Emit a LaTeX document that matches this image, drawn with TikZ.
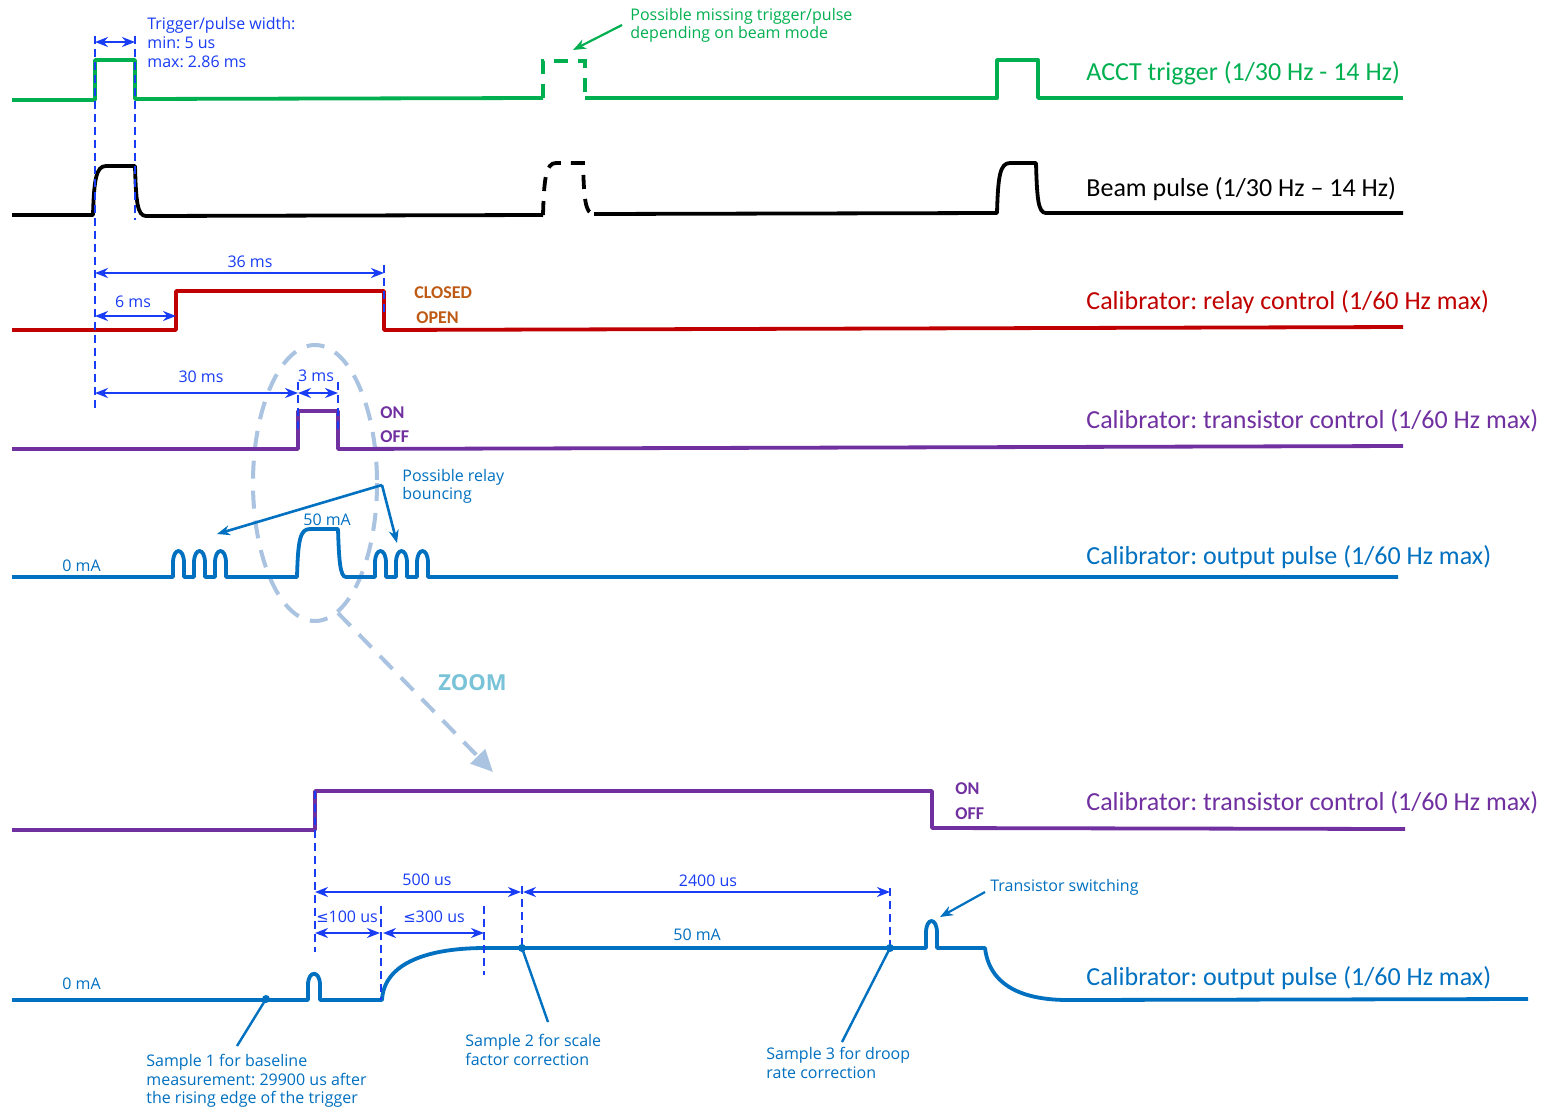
\documentclass[tikz,border=0pt]{standalone}
\usepackage{fontspec}
\setmainfont{Carlito}
\newfontfamily\annfont{Open Sans}
\newfontfamily\symfont{DejaVu Sans}
\usetikzlibrary{arrows.meta}
\definecolor{cgreen}{RGB}{0,176,80}
\definecolor{cred}{RGB}{192,0,0}
\definecolor{cpurple}{RGB}{112,48,160}
\definecolor{cblue}{RGB}{0,112,192}
\definecolor{dimblue}{RGB}{25,60,245}
\definecolor{cbrown}{RGB}{191,90,20}
\definecolor{zoomline}{RGB}{170,195,225}
\definecolor{zoomtext}{RGB}{120,195,215}
\frenchspacing
\begin{document}
\begin{tikzpicture}[x=0.5pt,y=-0.5pt,
  sig/.style={line width=1.9pt, line join=round},
  dashsig/.style={line width=1.9pt, dash pattern=on 7pt off 5pt},
  dimline/.style={dimblue, line width=1pt, {Stealth[length=6.5pt,width=5pt]}-{Stealth[length=6.5pt,width=5pt]}},
  guide/.style={dimblue, line width=1.2pt, dash pattern=on 4pt off 2.5pt},
  siglabel/.style={font=\fontsize{13}{15}\selectfont, anchor=west, inner sep=0pt},
  ann/.style={font=\annfont\fontsize{8}{9.3}\selectfont, inner sep=0pt, align=left},
  dimtext/.style={font=\annfont\fontsize{8}{9.3}\selectfont, inner sep=0pt, anchor=base, text=dimblue},
  state/.style={font=\bfseries\fontsize{9}{10}\selectfont, anchor=base west, inner sep=0pt},
  callout/.style={line width=1.3pt, -{Stealth[length=6.5pt,width=5pt]}},
  leader/.style={cblue, line width=1.2pt},
]
\fill[white] (0,0) rectangle (1551,1108);
\useasboundingbox (0,0) rectangle (1551,1108);

% ---------- zoom ellipse and arrow ----------
\draw[zoomline, line width=2pt, dash pattern=on 9pt off 6pt] (315,483) ellipse [x radius=62, y radius=138];
\coordinate (zs) at (338,613);
\coordinate (ze) at (493,772);
\draw[zoomline, line width=2pt, dash pattern=on 9pt off 6pt, -{Triangle[length=11pt,width=10pt]}] (zs) -- (ze);
\node[font=\annfont\bfseries\fontsize{11}{13}\selectfont, text=zoomtext, anchor=base west, inner sep=0pt] (zoomlbl) at (438,690) {ZOOM};

% ---------- ACCT trigger ----------
\draw[sig, cgreen] (12,100) -- (95,100) -- (95,60) -- (135,60) -- (135,99) -- (543,98);
\draw[dashsig, cgreen] (543,98) -- (543,61) -- (585,61) -- (585,98);
\draw[sig, cgreen] (585,98) -- (997,98) -- (997,60) -- (1038,60) -- (1038,98) -- (1403,98);
\node[siglabel, text=cgreen] (lacct) at (1086,73) {ACCT trigger (1/30 Hz - 14 Hz)};

% ---------- Beam pulse ----------
\draw[sig, black] (12,215) -- (93,215) .. controls (94,180) and (96,166) .. (106,166) -- (135,166)
  .. controls (136,200) and (137,216) .. (146,216) -- (543,215);
\draw[dashsig, black] (543,215) .. controls (544,178) and (546,163) .. (556,163) -- (583,163)
  .. controls (584,198) and (585,214) .. (594,214);
\draw[sig, black] (594,214) -- (997,213) .. controls (998,176) and (1000,163) .. (1010,163) -- (1036,163)
  .. controls (1037,198) and (1038,213) .. (1046,213) -- (1403,213);
\node[siglabel, text=black] (lbeam) at (1086,189) {Beam pulse (1/30 Hz – 14 Hz)};

% ---------- Relay control ----------
\draw[sig, cred] (12,330) -- (176,330) -- (176,291) -- (384,291) -- (384,330) -- (1403,327);
\node[siglabel, text=cred] (lrelay) at (1086,302) {Calibrator: relay control (1/60 Hz max)};
\node[state, text=cbrown] (closed) at (414,298) {CLOSED};
\node[state, text=cbrown] (open) at (416,323) {OPEN};

% ---------- Transistor control ----------
\draw[sig, cpurple] (12,449) -- (298,449) -- (298,411) -- (338,411) -- (338,449) -- (1403,446);
\node[siglabel, text=cpurple] (ltrans) at (1086,421) {Calibrator: transistor control (1/60 Hz max)};
\node[state, text=cpurple] (on1) at (380,418) {ON};
\node[state, text=cpurple] (off1) at (380,442) {OFF};

% ---------- Output pulse ----------
\draw[sig, cblue] (12,577) -- (173,577)
  -- (173,563) .. controls (173,547) and (184,547) .. (184,563) -- (184,577) -- (194,577)
  -- (194,563) .. controls (194,547) and (205,547) .. (205,563) -- (205,577) -- (215,577)
  -- (215,563) .. controls (215,547) and (226,547) .. (226,563) -- (226,577) -- (297,577)
  .. controls (298,540) and (300,529) .. (310,529) -- (338,529)
  .. controls (339,560) and (340,577) .. (346,577) -- (375,577)
  -- (375,563) .. controls (375,547) and (386,547) .. (386,563) -- (386,577) -- (396,577)
  -- (396,563) .. controls (396,547) and (407,547) .. (407,563) -- (407,577) -- (417,577)
  -- (417,563) .. controls (417,547) and (428,547) .. (428,563) -- (428,577) -- (1398,577);
\node[siglabel, text=cblue] (lout) at (1086,557) {Calibrator: output pulse (1/60 Hz max)};
\node[ann, text=cblue, anchor=base west] (zero1) at (62,571) {0 mA};
\node[ann, text=cblue, anchor=base west] (fifty1) at (303,525) {50 mA};
\node[ann, text=cblue, anchor=north west, font=\annfont\fontsize{8}{9}\selectfont] (bounce) at (402,469) {Possible relay\\bouncing};
\coordinate (bsrc) at (382,485);
\coordinate (b1) at (217,534);
\coordinate (b2) at (397,543);
\draw[callout, cblue] (bsrc) -- (b1);
\draw[callout, cblue] (bsrc) -- (b2);

% ---------- Missing trigger annotation ----------
\node[ann, text=cgreen, anchor=north west, font=\annfont\fontsize{8}{9}\selectfont] (missing) at (630,8) {Possible missing trigger/pulse\\depending on beam mode};
\coordinate (msrc) at (622,25);
\coordinate (mdst) at (573,50);
\draw[callout, cgreen, line width=1.1pt] (msrc) -- (mdst);

% ---------- Top dimensions ----------
\draw[guide] (95,36) -- (95,412);
\draw[guide] (135,36) -- (135,220);
\draw[guide] (384,265) -- (384,312);
\draw[guide] (298,382) -- (298,432);
\draw[guide] (338,382) -- (338,432);
\coordinate (w0) at (95,42);   \coordinate (w1) at (135,42);
\coordinate (a0) at (95,273);  \coordinate (a1) at (384,273);
\coordinate (c0) at (95,316);  \coordinate (c1) at (176,316);
\coordinate (d0) at (95,393);  \coordinate (d1) at (298,393);
\coordinate (e1) at (338,393);
\draw[dimline] (w0) -- (w1);
\draw[dimline] (a0) -- (a1);
\draw[dimline] (c0) -- (c1);
\draw[dimline] (d0) -- (d1);
\draw[dimline] (d1) -- (e1);
\node[ann, text=dimblue, anchor=north west, font=\annfont\fontsize{8}{9.5}\selectfont] (trigw) at (147,17) {Trigger/pulse width:\\min: 5 us\\max: 2.86 ms};
\node[dimtext] (t36) at (250,267) {36 ms};
\node[dimtext] (t6) at (133,307) {6 ms};
\node[dimtext] (t30) at (201,382) {30 ms};
\node[dimtext] (t3) at (316,381) {3 ms};

% ---------- Bottom transistor control ----------
\draw[sig, cpurple] (12,830) -- (315,830) -- (315,791) -- (932,791) -- (932,828) -- (1405,829);
\node[siglabel, text=cpurple] (ltrans2) at (1086,803) {Calibrator: transistor control (1/60 Hz max)};
\node[state, text=cpurple] (on2) at (955,794) {ON};
\node[state, text=cpurple] (off2) at (955,819) {OFF};

% ---------- Bottom output pulse ----------
\draw[sig, cblue] (12,1000) -- (308,1000) -- (308,985) .. controls (308,970) and (320,970) .. (320,985) -- (320,1000)
  -- (382,1000) .. controls (384,962) and (430,948) .. (485,948) -- (926,948)
  -- (926,933) .. controls (926,917) and (937,917) .. (937,933) -- (937,948) -- (985,948)
  .. controls (990,990) and (1030,1000) .. (1068,1000) -- (1528,999);
\node[siglabel, text=cblue] (lout2) at (1086,978) {Calibrator: output pulse (1/60 Hz max)};
\node[ann, text=cblue, anchor=base west] (zero2) at (62,989) {0 mA};
\node[ann, text=cblue, anchor=base west] (fifty2) at (673,940) {50 mA};

\coordinate (s1) at (266,999);
\coordinate (s2) at (522,948);
\coordinate (s3) at (890,948);
\coordinate (l1) at (237,1046);
\coordinate (l2) at (548,1022);
\coordinate (l3) at (842,1042);

% bottom guides and dimensions
\draw[guide] (315,791) -- (315,952);
\draw[guide] (381,906) -- (381,1000);
\draw[guide] (484,906) -- (484,975);
\draw[guide] (522,886) -- (522,948);
\draw[guide] (890,888) -- (890,948);
\coordinate (f0) at (315,892); \coordinate (f1) at (521,892);
\coordinate (g0) at (523,892); \coordinate (g1) at (890,892);
\coordinate (h0) at (315,933); \coordinate (h1) at (380,933);
\coordinate (k0) at (383,933); \coordinate (k1) at (484,933);
\draw[dimline] (f0) -- (f1);
\draw[dimline] (g0) -- (g1);
\draw[dimline] (h0) -- (h1);
\draw[dimline] (k0) -- (k1);
\node[dimtext] (t500) at (427,885) {500 us};
\node[dimtext] (t2400) at (708,886) {2400 us};
\node[dimtext] (t100) at (347,922) {{\symfont\fontsize{7.4}{9}\selectfont ≤}100 us};
\node[dimtext] (t300) at (434,922) {{\symfont\fontsize{7.4}{9}\selectfont ≤}300 us};

% sample leaders
\draw[leader] (s1) -- (l1);
\draw[leader] (s2) -- (l2);
\draw[leader] (s3) -- (l3);
\fill[cblue] (s1) circle (2pt);
\fill[cblue] (s2) circle (2pt);
\fill[cblue] (s3) circle (2pt);
\node[ann, text=cblue, anchor=north west, font=\annfont\fontsize{8}{9.3}\selectfont] (samp1) at (146,1054) {Sample 1 for baseline\\measurement: 29900 us after\\the rising edge of the trigger};
\node[ann, text=cblue, anchor=north west, font=\annfont\fontsize{8}{9.3}\selectfont] (samp2) at (465,1034) {Sample 2 for scale\\factor correction};
\node[ann, text=cblue, anchor=north west, font=\annfont\fontsize{8}{9.3}\selectfont] (samp3) at (766,1047) {Sample 3 for droop\\rate correction};

% transistor switching
\node[ann, text=cblue, anchor=base west] (tsw) at (990,891) {Transistor switching};
\coordinate (tsrc) at (985,892);
\coordinate (tdst) at (940,917);
\draw[callout, cblue, line width=1.1pt] (tsrc) -- (tdst);
\end{tikzpicture}
\end{document}
